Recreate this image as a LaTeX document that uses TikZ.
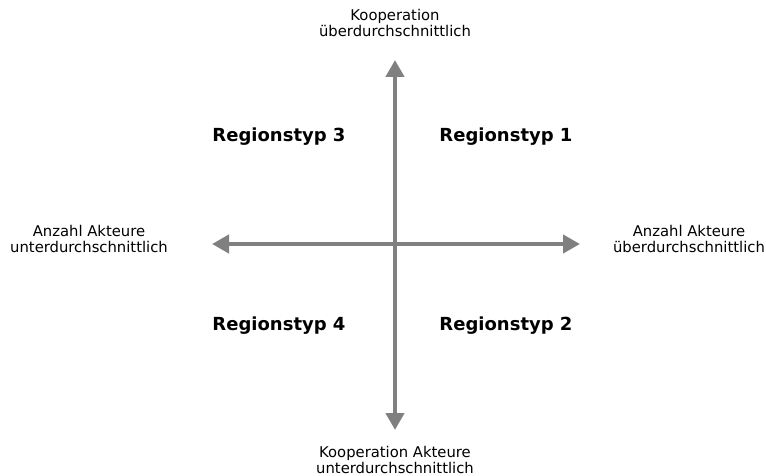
\documentclass[tikz,border=0pt]{standalone}
\usepackage{fontspec}
\setmainfont{DejaVu Sans}
\usepackage{tikz}
\usetikzlibrary{arrows.meta,positioning}
\definecolor{axisGrey}{HTML}{808080}

\begin{document}
\begin{tikzpicture}[x=1pt,y=-1pt,
   axis/.style={draw=axisGrey,line width=4.5pt,
                {Triangle[length=17pt,width=18pt]}-{Triangle[length=17pt,width=18pt]}},
   pole/.style={font=\fontsize{14.8}{16.5}\selectfont,align=center,inner sep=0pt},
   typ/.style={font=\fontsize{18}{21}\selectfont\bfseries,inner sep=0pt}]
  \useasboundingbox (0,0) rectangle (766,476);
  % axis ends
  \coordinate (top) at (395,60);
  \coordinate (bot) at (395,430);
  \coordinate (lft) at (212,244);
  \coordinate (rgt) at (580,244);
  \draw[axis] (lft) -- (rgt);
  \draw[axis] (bot) -- (top);
  % pole labels
  \node[pole] (koopHi) at (395,23) {Kooperation\\überdurchschnittlich};
  \node[pole] (koopLo) at (395,460) {Kooperation Akteure\\unterdurchschnittlich};
  \node[pole] (anzLo) at (89,239) {Anzahl Akteure\\unterdurchschnittlich};
  \node[pole] (anzHi) at (689,239) {Anzahl Akteure\\überdurchschnittlich};
  % quadrants
  \node[typ] (typ3) at (279,137) {Regionstyp 3};
  \node[typ] (typ1) at (506,137) {Regionstyp 1};
  \node[typ] (typ4) at (279,326) {Regionstyp 4};
  \node[typ] (typ2) at (506,326) {Regionstyp 2};
\end{tikzpicture}
\end{document}
